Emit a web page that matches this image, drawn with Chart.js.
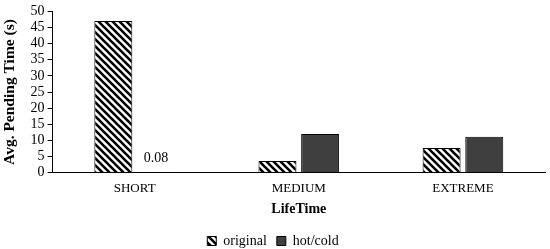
<!DOCTYPE html>
<html>
<head>
<meta charset="utf-8">
<script src="https://cdn.jsdelivr.net/npm/chart.js@4.4.1/dist/chart.umd.min.js"></script>
<style>
  html, body { margin: 0; padding: 0; background: #fff; }
  #wrap { width: 550px; height: 249px; }
</style>
</head>
<body>
<div id="wrap"><canvas id="chart"></canvas></div>
<script>
  const categories = ['SHORT', 'MEDIUM', 'EXTREME'];
  const originalValues = [47, 3.6, 7.6];
  const hotColdValues = [0.08, 12, 11.1];
  const hotColdLabels = ['0.08', null, null];
  const yTicks = [0, 5, 10, 15, 20, 25, 30, 35, 40, 45, 50];

  function makeStripes() {
    const size = 7;
    const c = document.createElement('canvas');
    c.width = size;
    c.height = size;
    const g = c.getContext('2d');
    g.fillStyle = '#fff';
    g.fillRect(0, 0, size, size);
    g.strokeStyle = '#000';
    g.lineWidth = 2.6;
    g.beginPath();
    g.moveTo(-1, -1); g.lineTo(size + 1, size + 1);
    g.moveTo(-2, size - 2); g.lineTo(2, size + 2);
    g.moveTo(size - 2, -2); g.lineTo(size + 2, 2);
    g.stroke();
    return g.createPattern(c, 'repeat');
  }
  const stripes = makeStripes();

  // draws the small value label over the hot/cold bar
  const valueLabels = {
    id: 'valueLabels',
    afterDatasetsDraw(chart) {
      const ctx = chart.ctx;
      const meta = chart.getDatasetMeta(1);
      ctx.save();
      ctx.font = '14px "Liberation Serif", serif';
      ctx.fillStyle = '#000';
      ctx.textAlign = 'center';
      ctx.textBaseline = 'bottom';
      meta.data.forEach((bar, i) => {
        if (hotColdLabels[i]) ctx.fillText(hotColdLabels[i], bar.x, bar.y - 7);
      });
      ctx.restore();
    }
  };

  Chart.defaults.font.family = '"Liberation Serif", "Times New Roman", serif';
  Chart.defaults.color = '#000';

  new Chart(document.getElementById('chart'), {
    type: 'bar',
    data: {
      labels: categories,
      datasets: [{
        label: 'original',
        data: originalValues,
        backgroundColor: stripes,
        borderColor: '#000',
        borderWidth: 1
      }, {
        label: 'hot/cold',
        data: hotColdValues,
        backgroundColor: '#3f3f3f',
        borderColor: '#000',
        borderWidth: 1
      }]
    },
    options: {
      responsive: true,
      maintainAspectRatio: false,
      animation: false,
      categoryPercentage: 0.52,
      barPercentage: 0.89,
      layout: { padding: { top: 3, right: 5, left: 1, bottom: -9 } },
      plugins: {
        legend: {
          position: 'bottom',
          labels: {
            boxWidth: 9,
            boxHeight: 9,
            padding: 10,
            font: { size: 14 }
          }
        },
        tooltip: { enabled: false }
      },
      scales: {
        x: {
          grid: { display: false, drawTicks: false },
          border: { display: true, color: '#000', width: 1 },
          ticks: { font: { size: 13 }, padding: 8 },
          title: {
            display: true,
            text: 'LifeTime',
            font: { size: 14, weight: 'bold' },
            padding: { top: -3, bottom: 6 }
          }
        },
        y: {
          min: 0,
          max: 50,
          afterBuildTicks(scale) {
            scale.ticks = yTicks.map(v => ({ value: v }));
          },
          grid: {
            display: true,
            drawOnChartArea: false,
            drawTicks: true,
            tickLength: 5,
            color: '#000'
          },
          border: { display: true, color: '#000', width: 1 },
          ticks: { font: { size: 14 }, padding: 3, autoSkip: false },
          title: {
            display: true,
            text: 'Avg. Pending Time (s)',
            font: { size: 15.5, weight: 'bold' },
            padding: { top: 0, bottom: 8 }
          }
        }
      }
    },
    plugins: [valueLabels]
  });
</script>
</body>
</html>
